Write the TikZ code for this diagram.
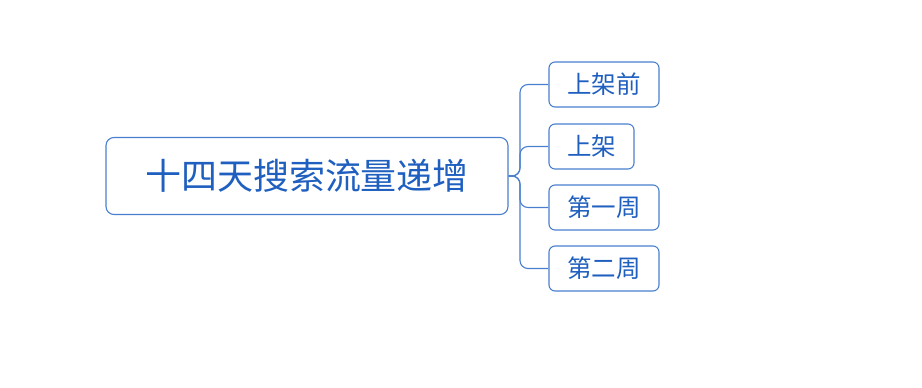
\documentclass[tikz,border=0pt]{standalone}
\usepackage{fontspec}
\newfontfamily\cjk{Noto Sans CJK SC}
\definecolor{boxline}{HTML}{4A7FD0}
\definecolor{txt}{HTML}{1F5FBF}
\begin{document}
\begin{tikzpicture}[x=1pt,y=-1pt,
  mainbox/.style={draw=boxline,line width=1.1pt,rounded corners=8pt,inner sep=0pt,text=txt,font=\cjk\fontsize{36}{38}\selectfont},
  childbox/.style={draw=boxline,line width=1.1pt,rounded corners=6pt,inner sep=0pt,minimum height=45pt,text=txt,font=\cjk\fontsize{24.5}{26}\selectfont},
  link/.style={draw=boxline,line width=1.1pt,rounded corners=8pt}]
\useasboundingbox (0,0) rectangle (922,388);
\node[mainbox,minimum width=402pt,minimum height=77pt] (m) at (307,176) {十四天搜索流量递增};
\node[childbox,minimum width=110pt] (c1) at (604,84.5) {上架前};
\node[childbox,minimum width=85pt] (c2) at (591.5,146.5) {上架};
\node[childbox,minimum width=110pt] (c3) at (604,207.5) {第一周};
\node[childbox,minimum width=110pt] (c4) at (604,268.5) {第二周};
\coordinate (j) at (520,176);
\foreach \c in {c1,c2,c3,c4}{
  \draw[link] (m.east) -- (j) -- (j |- \c.west) -- (\c.west);
}
\end{tikzpicture}
\end{document}
